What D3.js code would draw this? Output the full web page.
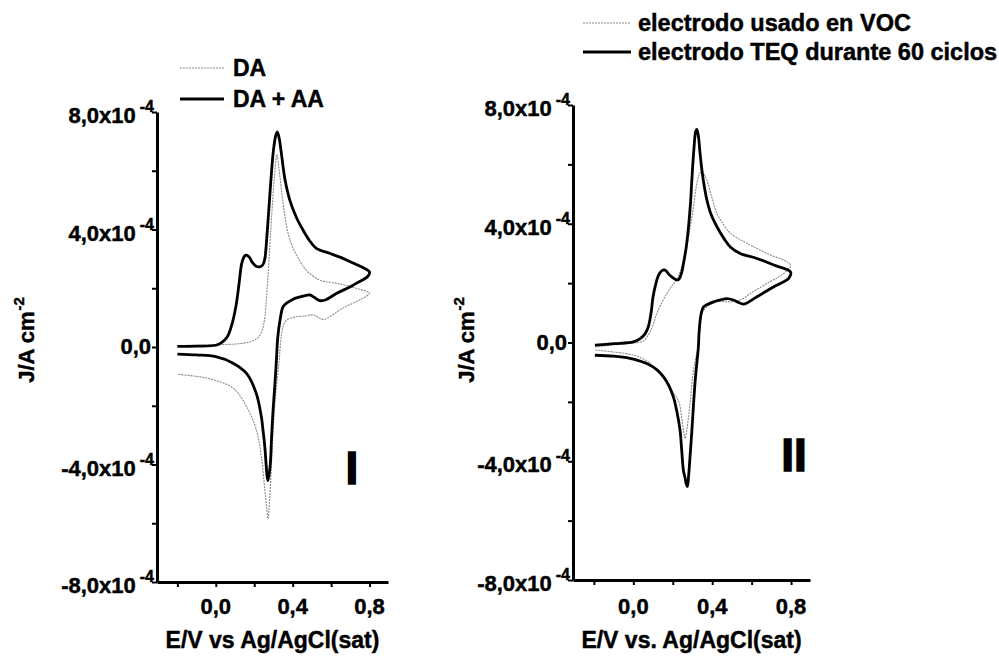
<!DOCTYPE html>
<html>
<head>
<meta charset="utf-8">
<script src="https://cdn.jsdelivr.net/npm/d3@7"></script>
<style>
  body { margin: 0; background: #fff; }
  text { font-family: "Liberation Sans", Arial, sans-serif; font-weight: bold; fill: #000; stroke: #000; stroke-width: 0.45px; }
</style>
</head>
<body>
<script>
// J values are in units of 1e-4 A cm^-2, E in V vs Ag/AgCl(sat)
const xTickValues = [-0.2, 0, 0.2, 0.4, 0.6, 0.8];
const xTickLabels = [0, 0.4, 0.8];
const yTickValues = [-8, -6, -4, -2, 0, 2, 4, 6, 8];
const yTickLabels = [-8, -4, 0, 4, 8];

// panel I
const leftDA = [
  [-0.20, 0.05], [-0.10, 0.06], [0.00, 0.08], [0.10, 0.10], [0.18, 0.18], [0.22, 0.32], [0.24, 0.55],
  [0.255, 1.0], [0.265, 1.8], [0.28, 3.3], [0.29, 4.4], [0.305, 5.8], [0.318, 6.55], [0.33, 6.0],
  [0.35, 4.9], [0.375, 3.9], [0.40, 3.4], [0.44, 2.9], [0.47, 2.62], [0.54, 2.28], [0.63, 2.17],
  [0.73, 2.0], [0.80, 1.83],
  [0.765, 1.66], [0.66, 1.32], [0.56, 0.94], [0.51, 1.09], [0.46, 1.05], [0.42, 1.03], [0.37, 0.92],
  [0.35, 0.69], [0.338, 0.2], [0.328, -0.6], [0.31, -1.7], [0.295, -3.2], [0.285, -4.6], [0.277, -5.5],
  [0.272, -5.85], [0.265, -5.5], [0.255, -4.86], [0.237, -3.73], [0.211, -2.82], [0.16, -2.03],
  [0.09, -1.4], [-0.01, -1.12], [-0.10, -1.0], [-0.20, -0.93]
];
const leftDAAA = [
  [-0.20, 0.02], [-0.10, 0.03], [0.00, 0.06], [0.03, 0.15], [0.06, 0.35], [0.085, 0.8], [0.105, 1.4],
  [0.12, 2.1], [0.135, 2.85], [0.15, 3.1], [0.16, 3.13], [0.175, 3.05], [0.19, 2.88], [0.21, 2.75],
  [0.228, 2.73], [0.245, 2.8], [0.255, 3.0], [0.265, 3.7], [0.275, 4.6], [0.288, 5.8], [0.30, 6.7],
  [0.312, 7.2], [0.32, 7.32], [0.33, 7.1], [0.341, 6.6], [0.36, 5.7], [0.385, 5.0], [0.42, 4.4],
  [0.454, 3.98], [0.49, 3.6], [0.523, 3.36], [0.592, 3.19], [0.65, 3.05], [0.70, 2.9], [0.76, 2.72],
  [0.80, 2.55],
  [0.79, 2.4], [0.74, 2.2], [0.70, 2.05], [0.627, 1.82], [0.57, 1.6], [0.54, 1.58], [0.51, 1.7],
  [0.49, 1.77], [0.45, 1.72], [0.40, 1.62], [0.37, 1.5], [0.35, 1.37], [0.335, 0.95], [0.322, 0.3],
  [0.315, -0.5], [0.305, -1.5], [0.297, -2.25], [0.29, -3.1], [0.284, -3.95], [0.276, -4.4],
  [0.27, -4.55], [0.263, -4.1], [0.255, -3.4], [0.245, -2.8], [0.237, -2.37], [0.21, -1.57],
  [0.16, -0.9], [0.09, -0.55], [0.00, -0.33], [-0.10, -0.27], [-0.20, -0.24]
];

// panel II
const rightVOC = [
  [-0.195, -0.15], [-0.10, -0.08], [0.00, -0.02], [0.05, 0.05], [0.08, 0.3], [0.10, 0.6], [0.119, 0.98],
  [0.145, 1.35], [0.17, 1.65], [0.195, 1.9], [0.22, 2.1], [0.245, 2.55], [0.271, 3.22], [0.29, 3.95],
  [0.305, 4.57], [0.318, 5.2], [0.33, 5.58], [0.34, 5.72], [0.348, 5.75], [0.36, 5.65], [0.373, 5.47],
  [0.40, 4.85], [0.424, 4.35], [0.46, 3.95], [0.492, 3.68], [0.577, 3.34], [0.678, 3.0], [0.797, 2.61],
  [0.763, 2.33], [0.678, 1.99], [0.593, 1.65], [0.542, 1.43], [0.492, 1.37], [0.424, 1.37], [0.373, 1.2],
  [0.348, 0.98], [0.338, 0.6], [0.33, -0.1], [0.314, -0.6], [0.30, -1.2], [0.29, -1.9], [0.28, -2.5],
  [0.27, -3.0], [0.263, -3.24], [0.255, -3.0], [0.245, -2.5], [0.235, -2.1], [0.22, -1.85],
  [0.203, -1.7], [0.18, -1.4], [0.153, -1.12], [0.12, -0.9], [0.068, -0.62], [0.00, -0.42],
  [-0.10, -0.32], [-0.195, -0.25]
];
const rightTEQ = [
  [-0.195, -0.09], [-0.10, -0.04], [0.00, 0.02], [0.035, 0.13], [0.06, 0.3], [0.076, 0.53], [0.09, 1.0],
  [0.10, 1.54], [0.115, 2.0], [0.127, 2.25], [0.145, 2.42], [0.161, 2.44], [0.18, 2.3], [0.195, 2.21],
  [0.215, 2.12], [0.229, 2.12], [0.245, 2.35], [0.254, 2.65], [0.268, 3.2], [0.28, 3.9], [0.29, 4.7],
  [0.297, 5.5], [0.307, 6.5], [0.316, 7.1], [0.322, 7.18], [0.33, 6.95], [0.338, 6.4], [0.348, 5.8],
  [0.36, 5.25], [0.373, 4.8], [0.395, 4.3], [0.424, 3.9], [0.46, 3.5], [0.492, 3.22], [0.542, 3.0],
  [0.627, 2.83], [0.712, 2.61], [0.797, 2.38],
  [0.788, 2.16], [0.712, 1.88], [0.627, 1.54], [0.559, 1.29], [0.53, 1.36], [0.508, 1.43], [0.475, 1.48],
  [0.44, 1.43], [0.407, 1.37], [0.375, 1.28], [0.356, 1.2], [0.345, 1.0], [0.339, 0.75], [0.333, 0.3],
  [0.33, -0.15], [0.322, -0.7], [0.314, -1.27], [0.305, -2.1], [0.297, -2.96], [0.288, -3.8],
  [0.28, -4.53], [0.274, -4.85], [0.268, -4.75], [0.262, -4.55], [0.254, -4.31], [0.245, -3.6],
  [0.237, -2.96], [0.22, -2.3], [0.203, -1.83], [0.18, -1.45], [0.153, -1.16], [0.12, -0.92],
  [0.068, -0.71], [0.00, -0.56], [-0.034, -0.51], [-0.10, -0.46], [-0.195, -0.43]
];

const xDomain = [-0.306, 0.896];
const yDomain = [-8, 8];
// comma decimals, plain hyphen for the sign
const comma = v => d3.format(".1f")(v).replace(".", ",").replace("\u2212", "-");

const svg = d3.select('body')
  .append('svg')
    .attr('width', 999)
    .attr('height', 656);

const styles = {
  thin: { stroke: '#8a8a8a', width: 1.1, dash: '2,1' },
  thick: { stroke: '#000', width: 2.8, dash: null }
};

const panels = [
  {
    left: 157, right: 388, bottom: 582, top: 112,
    series: [ { data: leftDA, style: 'thin' }, { data: leftDAAA, style: 'thick' } ],
    legend: { x: 180, len: 44, y: 68, gap: 31, textX: 233, size: 23, names: ['DA', 'DA + AA'] },
    roman: 'I', romanX: 352, romanY: 484,
    xTitle: 'E/V vs Ag/AgCl(sat)', yTitleX: 34
  },
  {
    left: 573, right: 810, bottom: 580, top: 105,
    series: [ { data: rightVOC, style: 'thin' }, { data: rightTEQ, style: 'thick' } ],
    legend: { x: 583, len: 48, y: 23, gap: 29, textX: 638, size: 23.5, names: ['electrodo usado en VOC', 'electrodo TEQ durante 60 ciclos'] },
    roman: 'II', romanX: 794, romanY: 471,
    xTitle: 'E/V vs. Ag/AgCl(sat)', yTitleX: 474
  }
];

const drawPanel = (p) => {
  const x = d3.scaleLinear().domain(xDomain).range([p.left, p.right]);
  const y = d3.scaleLinear().domain(yDomain).range([p.bottom, p.top]);
  const g = svg.append('g');

  // curves
  const line = d3.line()
    .x(d => x(d[0]))
    .y(d => y(d[1]))
    .curve(d3.curveCatmullRom.alpha(0.5));

  g.selectAll('.cv')
    .data(p.series)
    .enter()
    .append('path')
      .attr('d', d => line(d.data))
      .attr('fill', 'none')
      .attr('stroke', d => styles[d.style].stroke)
      .attr('stroke-width', d => styles[d.style].width)
      .attr('stroke-dasharray', d => styles[d.style].dash)
      .attr('stroke-linejoin', 'round');

  // axes
  const yAxis = g.append('g')
    .attr('transform', `translate(${p.left},0)`)
    .call(d3.axisLeft(y).tickValues(yTickValues).tickSize(5).tickSizeOuter(0).tickFormat(''));
  const xAxis = g.append('g')
    .attr('transform', `translate(0,${p.bottom})`)
    .call(d3.axisBottom(x).tickValues(xTickValues).tickSize(5).tickSizeOuter(0).tickFormat(''));
  [yAxis, xAxis].forEach(a => {
    a.select('.domain').attr('stroke-width', 3).attr('stroke', '#000');
    a.selectAll('.tick line').attr('stroke-width', 2).attr('stroke', '#000');
  });

  // y tick labels
  yTickLabels.forEach(v => {
    if (v === 0) {
      g.append('text')
        .attr('x', p.left - 6)
        .attr('y', y(v) + 7)
        .attr('text-anchor', 'end')
        .style('font-size', '22px')
        .text(comma(v));
    } else {
      const t = g.append('text')
        .attr('x', p.left - 3)
        .attr('y', y(v) + 11)
        .attr('text-anchor', 'end')
        .style('font-size', '22px')
        .text(comma(v) + 'x10');
      t.append('tspan')
        .attr('dx', 4)
        .attr('dy', -11)
        .style('font-size', '16px')
        .text('-4');
    }
  });

  // x tick labels
  g.selectAll('.xl')
    .data(xTickLabels)
    .enter()
    .append('text')
      .attr('x', d => x(d))
      .attr('y', 614)
      .attr('text-anchor', 'middle')
      .style('font-size', '22px')
      .text(d => comma(d));

  // axis titles
  g.append('text')
    .attr('x', (p.left + p.right) / 2)
    .attr('y', 648)
    .attr('text-anchor', 'middle')
    .style('font-size', '23px')
    .text(p.xTitle);

  const yt = g.append('text')
    .attr('transform', `translate(${p.yTitleX},340) rotate(-90)`)
    .attr('text-anchor', 'middle')
    .style('font-size', '22px')
    .text('J/A cm');
  yt.append('tspan')
    .attr('dy', -10)
    .attr('dx', 1)
    .style('font-size', '15px')
    .text('-2');

  // roman numeral
  g.append('text')
    .attr('x', p.romanX)
    .attr('y', p.romanY)
    .attr('text-anchor', 'middle')
    .style('font-size', '46px')
    .style('stroke-width', '1.5px')
    .text(p.roman);

  // legend
  const lg = g.append('g').classed('legend', true);
  p.series.forEach((s, i) => {
    const ly = p.legend.y + i * p.legend.gap;
    lg.append('line')
      .attr('x1', p.legend.x)
      .attr('x2', p.legend.x + p.legend.len)
      .attr('y1', ly)
      .attr('y2', ly)
      .attr('stroke', styles[s.style].stroke)
      .attr('stroke-width', styles[s.style].width)
      .attr('stroke-dasharray', styles[s.style].dash);
    lg.append('text')
      .attr('x', p.legend.textX)
      .attr('y', ly + 8)
      .style('font-size', p.legend.size + 'px')
      .text(p.legend.names[i]);
  });
};

panels.forEach(drawPanel);
</script>
</body>
</html>
